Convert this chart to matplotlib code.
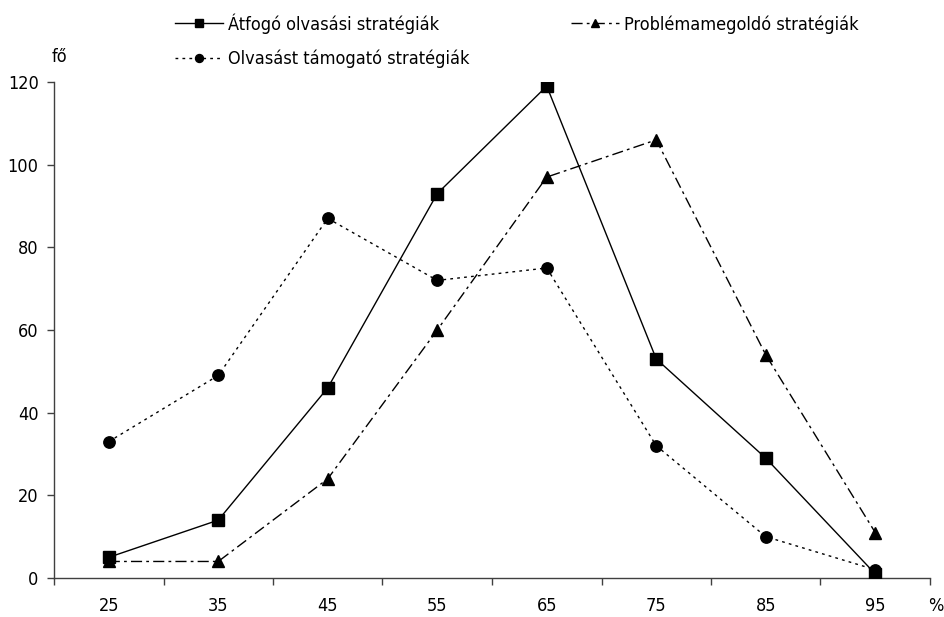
import matplotlib
matplotlib.use("Agg")
import matplotlib.pyplot as plt
from matplotlib.font_manager import FontProperties
import numpy as np

categories = ["25", "35", "45", "55", "65", "75", "85", "95"]
atfogo = [5, 14, 46, 93, 119, 53, 29, 1]
problema = [4, 4, 24, 60, 97, 106, 54, 11]
olvasast = [33, 49, 87, 72, 75, 32, 10, 2]
yticks = [0, 20, 40, 60, 80, 100, 120]

plt.rcParams['font.family'] = ['DejaVu Sans']
FS = 13
fkw = dict(family='DejaVu Sans', stretch='condensed')

fig = plt.figure(figsize=(9.44, 6.17), dpi=100)
ax = fig.add_axes([54/944, 1-578/617, (930-54)/944, (578-82)/617])

x = np.arange(len(categories))
ms = 8.2
l1, = ax.plot(x, atfogo, color='black', lw=1, ls='-', marker='s', ms=ms,
              label='Átfogó olvasási stratégiák', zorder=3)
l3, = ax.plot(x, problema, color='black', lw=1, ls=(0, (8, 3, 2, 3)), marker='^', ms=ms,
              label='Problémamegoldó stratégiák', zorder=3)
l2, = ax.plot(x, olvasast, color='black', lw=1, ls=(0, (2, 3)), marker='o', ms=ms,
              label='Olvasást támogató stratégiák', zorder=3)

ax.set_xlim(-0.5, len(categories) - 0.5)
ax.set_ylim(0, 120)
ax.set_yticks(yticks)
ax.set_yticklabels([str(v) for v in yticks], fontsize=FS, **fkw)
ax.set_xticks(x)
ax.set_xticklabels(categories, fontsize=FS, **fkw)
ax.set_xticks(np.arange(-0.5, len(categories)), minor=True)
ax.tick_params(axis='x', which='major', length=0, pad=14)
ax.tick_params(axis='x', which='minor', length=5, direction='out', color='#404040', width=1)
ax.tick_params(axis='y', which='major', length=5, direction='out', color='#404040', width=1, pad=6)

for s in ['top', 'right']:
    ax.spines[s].set_visible(False)
for s in ['left', 'bottom']:
    ax.spines[s].set_color('#404040')
    ax.spines[s].set_linewidth(1)

fig.text(52/944, 1-57/617, 'fő', ha='left', va='center', fontsize=FS, **fkw)
fig.text(936/944, 1-606/617, '%', ha='center', va='center', fontsize=FS, **fkw)

leg = fig.legend(handles=[l1, l2, l3], ncol=2, loc='upper left',
                 bbox_to_anchor=(175/944, 1-13/617), frameon=False,
                 prop=FontProperties(size=FS, **fkw), handlelength=2.65, handletextpad=0.28,
                 columnspacing=5.65, labelspacing=0.89, borderaxespad=0, borderpad=0,
                 markerscale=0.7)

fig.savefig('out.png', dpi=100)
